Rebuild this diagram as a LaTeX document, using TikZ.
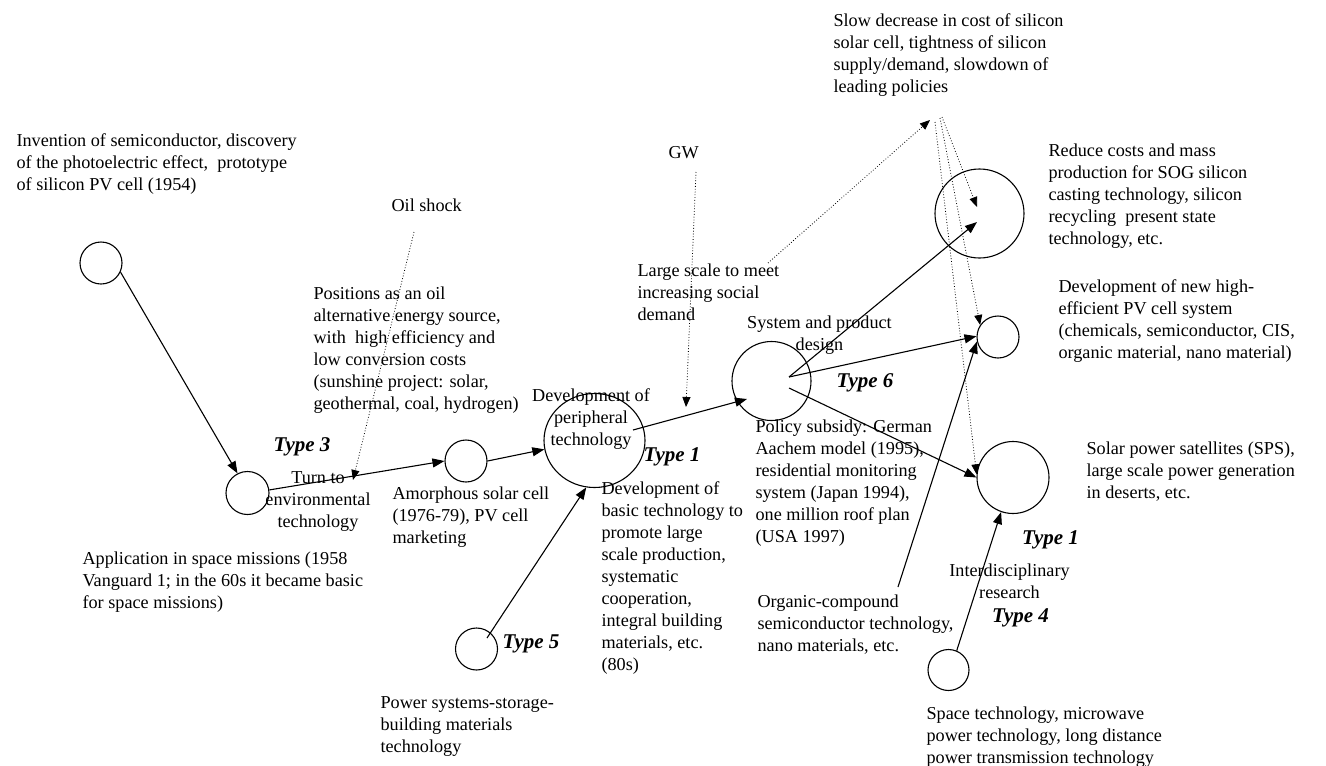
\documentclass[tikz,border=0pt]{standalone}
\usepackage{fontspec}
\setmainfont{Liberation Serif}
\usetikzlibrary{arrows.meta,shapes.geometric}

\begin{document}
\begin{tikzpicture}[x=1pt,y=-1pt,line width=1.1pt,
  stage/.style={draw,circle,inner sep=0pt},
  txt/.style={anchor=north west,align=left,inner sep=0pt,font=\fontsize{18.2}{22}\selectfont},
  ctxt/.style={txt,anchor=north,align=center},
  typ/.style={inner sep=0pt,font=\fontsize{21}{24}\selectfont\bfseries\itshape},
  arr/.style={-{Triangle[length=12pt,width=9pt]}},
  dotarr/.style={dotted,line width=.8pt,-{Triangle[length=10pt,width=8pt]}}]
\useasboundingbox (0,0) rectangle (1326,766);

\node[stage,minimum size=42pt] (c1) at (101,263) {};
\node[stage,minimum size=43pt] (c2) at (247.5,493) {};
\node[stage,minimum size=42pt] (c3) at (466,461) {};
\node[stage,ellipse,minimum width=101pt,minimum height=94pt] (c4) at (594.5,440.5) {};
\node[stage,minimum size=42pt] (c5) at (476.5,649) {};
\node[stage,minimum size=79pt] (c6) at (771.5,381) {};
\node[stage,minimum size=89pt] (c7) at (979.5,213.5) {};
\node[stage,minimum size=42pt] (c8) at (998,337) {};
\node[stage,minimum size=72pt] (c9) at (1013,477.5) {};
\node[stage,minimum size=41pt] (c10) at (948.5,670) {};

\node[txt] (inv) at (16,133) {Invention of semiconductor, discovery\\of the photoelectric effect,~ prototype\\of silicon PV cell (1954)};
\node[txt] (oil) at (391,198) {Oil shock};
\node[txt] (pos) at (313,286) {Positions as an oil\\alternative energy source,\\with~ high efficiency and\\low conversion costs\\(sunshine project: solar,\\geothermal, coal, hydrogen)};
\node[ctxt] (turn) at (318,471) {Turn to\\environmental\\technology};
\node[txt] (amor) at (392,486) {Amorphous solar cell\\(1976-79), PV cell\\marketing};
\node[ctxt] (peri) at (591,388) {Development of\\peripheral\\technology};
\node[txt] (basic) at (601,481) {Development of\\basic technology to\\promote large\\scale production,\\systematic\\cooperation,\\integral building\\materials, etc.\\(80s)};
\node[txt] (power) at (380,696) {Power systems-storage-\\building materials\\technology};
\node[txt] (appl) at (82,551) {Application in space missions (1958\\Vanguard 1; in the 60s it became basic\\for space missions)};
\node[txt] (gw) at (668,146) {GW};
\node[txt] (large) at (637,263) {Large scale to meet\\increasing social\\demand};
\node[ctxt] (sys) at (819.5,315) {System and product\\design};
\node[txt] (policy) at (755,419) {Policy subsidy: German\\Aachem model (1995),\\residential monitoring\\system (Japan 1994),\\one million roof plan\\(USA 1997)};
\node[txt] (slow) at (833,13) {Slow decrease in cost of silicon\\solar cell, tightness of silicon\\supply/demand, slowdown of\\leading policies};
\node[txt] (reduce) at (1048,143) {Reduce costs and mass\\production for SOG silicon\\casting technology, silicon\\recycling~ present state\\technology, etc.};
\node[txt] (newpv) at (1058,279) {Development of new high-\\efficient PV cell system\\(chemicals, semiconductor, CIS,\\organic material, nano material)};
\node[txt] (sps) at (1086,441) {Solar power satellites (SPS),\\large scale power generation\\in deserts, etc.};
\node[ctxt] (inter) at (1009.5,563) {Interdisciplinary\\research};
\node[txt] (org) at (757,594) {Organic-compound\\semiconductor technology,\\nano materials, etc.};
\node[txt] (space) at (926,706) {Space technology, microwave\\power technology, long distance\\power transmission technology};

\node[typ] (t3) at (302,447) {Type 3};
\node[typ] (t1a) at (672,457) {Type 1};
\node[typ] (t5) at (531,644) {Type 5};
\node[typ] (t6) at (865,383) {Type 6};
\node[typ] (t1b) at (1050.5,540) {Type 1};
\node[typ] (t4) at (1020.5,618) {Type 4};

\coordinate (c5out) at (487,638); \coordinate (c4out) at (633,430); \coordinate (c6in) at (747,399);
\coordinate (c6hub) at (789,377); \coordinate (c6low) at (789,388); \coordinate (c7in) at (977,222);
\coordinate (orgtop) at (898,587);
\coordinate (oiltop) at (414,232); \coordinate (oiltip) at (353,480);
\coordinate (gwbot) at (696,172); \coordinate (gwtip) at (686,407);
\coordinate (lsend) at (768,263); \coordinate (sdtip) at (930,120);
\coordinate (sd1) at (942,117); \coordinate (sd2) at (940,118); \coordinate (sd3) at (935,122);
\coordinate (c7dot) at (977,207);

\draw[arr] (c1.-25) -- (c2.117);
\draw[arr] (c2.8) -- (c3.west);
\draw[arr] (c3.east) -- (c4.190);
\draw[arr] (c5out) -- (c4.260);
\draw[arr] (c4out) -- (c6in);
\draw[arr] (c6hub) -- (c7in);
\draw[arr] (c6hub) -- (c8.178);
\draw[arr] (c6low) -- (c9.west);
\draw[arr] (orgtop) -- (c8.192);
\draw[arr] (c10.67) -- (c9.251);

\draw[dotarr] (oiltop) -- (oiltip);
\draw[dotarr] (gwbot) -- (gwtip);
\draw[dotarr] (lsend) -- (sdtip);
\draw[dotarr] (sd1) -- (c7dot);
\draw[dotarr] (sd2) -- (c8.146);
\draw[dotarr] (sd3) -- (c9.175);
\end{tikzpicture}
\end{document}
